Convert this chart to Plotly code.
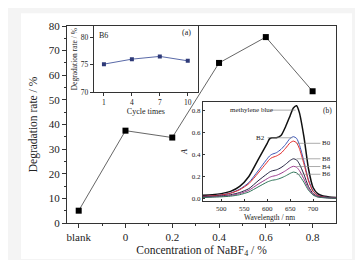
import plotly.graph_objects as go

# ---------------- data ----------------
conc_x = [-0.2, 0.0, 0.2, 0.4, 0.6, 0.8]
conc_labels = ["blank", "0", "0.2", "0.4", "0.6", "0.8"]
deg_rate = [5.0, 37.5, 34.7, 65.0, 75.5, 53.5]

cycle_times = [1, 4, 7, 10]
cycle_rate = [75.1, 76.0, 76.5, 75.7]

wavelength = [460, 480, 500, 520, 540, 560, 580, 600, 605, 610, 620, 630, 640, 650, 657, 664, 670, 680, 690, 700, 710, 720, 735, 750]
abs_mb = [0.030, 0.035, 0.045, 0.065, 0.110, 0.200, 0.350, 0.500, 0.540, 0.550, 0.550, 0.570, 0.650, 0.750, 0.820, 0.840, 0.780, 0.560, 0.270, 0.100, 0.045, 0.025, 0.015, 0.010]
abs_b2 = [0.020, 0.025, 0.035, 0.050, 0.085, 0.145, 0.250, 0.360, 0.385, 0.400, 0.415, 0.445, 0.490, 0.545, 0.560, 0.545, 0.490, 0.340, 0.170, 0.070, 0.030, 0.018, 0.010, 0.006]
abs_b0 = [0.020, 0.025, 0.033, 0.048, 0.080, 0.135, 0.230, 0.330, 0.355, 0.370, 0.385, 0.410, 0.455, 0.505, 0.520, 0.505, 0.455, 0.315, 0.160, 0.065, 0.028, 0.016, 0.009, 0.005]
abs_b8 = [0.015, 0.020, 0.025, 0.035, 0.055, 0.090, 0.160, 0.225, 0.240, 0.250, 0.260, 0.280, 0.310, 0.345, 0.360, 0.350, 0.315, 0.220, 0.110, 0.045, 0.020, 0.012, 0.007, 0.004]
abs_b4 = [0.012, 0.016, 0.020, 0.028, 0.045, 0.075, 0.130, 0.180, 0.192, 0.200, 0.210, 0.228, 0.252, 0.280, 0.292, 0.284, 0.255, 0.178, 0.090, 0.038, 0.017, 0.010, 0.006, 0.004]
abs_b6 = [0.010, 0.013, 0.016, 0.022, 0.035, 0.060, 0.105, 0.150, 0.158, 0.165, 0.172, 0.186, 0.205, 0.228, 0.240, 0.233, 0.210, 0.148, 0.075, 0.032, 0.014, 0.009, 0.005, 0.003]

spectra = [
    ("methylene blue", abs_mb, "#111111", 1.5),
    ("B2", abs_b2, "#3a55b5", 1.0),
    ("B0", abs_b0, "#e02828", 1.0),
    ("B8", abs_b8, "#23233f", 1.0),
    ("B4", abs_b4, "#9b3b8c", 1.0),
    ("B6", abs_b6, "#2f7458", 1.0),
]

FONT = "Liberation Serif"
W, H = 363, 260
ML, MR, MT, MB = 59, 35, 13, 45
pw = W - ML - MR
ph = H - MT - MB


def px2paper_x(px):
    return (px - ML) / pw


def px2paper_y(py):
    return (H - MB - py) / ph


fig = go.Figure()

# main
fig.add_trace(go.Scatter(
    x=conc_x, y=deg_rate, mode="lines+markers",
    line=dict(color="#555555", width=0.9),
    marker=dict(symbol="square", size=6, color="#000000"),
    xaxis="x", yaxis="y", showlegend=False))

# inset (a)
fig.add_trace(go.Scatter(
    x=cycle_times, y=cycle_rate, mode="lines+markers",
    line=dict(color="#5a6aa8", width=1),
    marker=dict(symbol="square", size=4, color="#2e3a78"),
    xaxis="x2", yaxis="y2", showlegend=False))

# inset (b)
for name, vals, col, w in spectra:
    fig.add_trace(go.Scatter(
        x=wavelength, y=vals, mode="lines", name=name,
        line=dict(color=col, width=w, shape="spline", smoothing=0.6),
        xaxis="x3", yaxis="y3", showlegend=False))

axis_common = dict(showline=True, mirror=True, linecolor="#333333", showgrid=False,
                   zeroline=False, ticks="outside", tickcolor="#333333")

fig.update_layout(
    width=W, height=H,
    margin=dict(l=ML, r=MR, t=MT, b=MB),
    paper_bgcolor="#f4f4f4", plot_bgcolor="white",
    font=dict(family=FONT, color="#222222"),
    xaxis=dict(axis_common, domain=[0, 1], range=[-0.25, 0.9], linewidth=1.3,
               tickmode="array", tickvals=conc_x, ticktext=conc_labels, ticklen=4,
               tickfont=dict(size=11),
               minor=dict(ticks="outside", ticklen=2, tickvals=[-0.1, 0.1, 0.3, 0.5, 0.7]),
               title=dict(text="Concentration of NaBF<sub>4</sub> / %", font=dict(size=11.5), standoff=3)),
    yaxis=dict(axis_common, domain=[0, 1], range=[0, 80], linewidth=1.3,
               dtick=10, ticklen=4, tickfont=dict(size=11),
               minor=dict(ticks="outside", ticklen=2, dtick=5),
               title=dict(text="Degradation rate / %", font=dict(size=11.5), standoff=8)),
    xaxis2=dict(axis_common, anchor="y2",
                domain=[px2paper_x(85.7), px2paper_x(190)], range=[-0.1, 11.1],
                tickvals=cycle_times, ticklen=3, linewidth=1,
                tickfont=dict(size=7.5),
                title=dict(text="Cycle times", font=dict(size=8), standoff=2)),
    yaxis2=dict(axis_common, anchor="x2",
                domain=[px2paper_y(81), 1.0], range=[70, 82],
                tickvals=[70, 75, 80], ticklen=3, linewidth=1,
                tickfont=dict(size=7.5),
                title=dict(text="Degradation rate / %", font=dict(size=7.5), standoff=2)),
    xaxis3=dict(axis_common, anchor="y3",
                domain=[px2paper_x(195), 1.0], range=[460, 750],
                tickvals=[500, 550, 600, 650, 700], ticks="inside", ticklen=2, linewidth=1,
                tickfont=dict(size=7),
                title=dict(text="Wavelength / nm", font=dict(size=7.5), standoff=1)),
    yaxis3=dict(axis_common, anchor="x3",
                domain=[px2paper_y(192.7), px2paper_y(91)], range=[-0.024, 0.873],
                tickvals=[0.0, 0.2, 0.4, 0.6, 0.8], tickformat=".1f",
                ticks="inside", ticklen=2, linewidth=1,
                tickfont=dict(size=7),
                title=dict(text="<i>A</i>", font=dict(size=8), standoff=3)),
)

# white page area over light-grey surround
fig.add_shape(type="rect", xref="paper", yref="paper",
              x0=px2paper_x(13), x1=px2paper_x(344), y0=px2paper_y(252), y1=px2paper_y(0),
              fillcolor="white", line=dict(width=0), layer="below")

# inset (a) texts
fig.add_annotation(xref="x2", yref="y2", x=1.0, y=80.2, text="B6", showarrow=False,
                   font=dict(size=8), xanchor="center")
fig.add_annotation(xref="x2", yref="y2", x=10.6, y=80.9, text="(a)", showarrow=False,
                   font=dict(size=8), xanchor="right")

# inset (b) labels with leader lines
fig.add_annotation(xref="x3", yref="y3", x=565, y=0.80, text="methylene blue", showarrow=False,
                   font=dict(size=7), xanchor="center")
fig.add_annotation(xref="x3", yref="y3", x=745, y=0.80, text="(b)", showarrow=False,
                   font=dict(size=7.5), xanchor="right")
labels_b = [("B2", 0.55, "left"), ("B0", 0.50, "right"), ("B8", 0.36, "right"),
            ("B4", 0.29, "right"), ("B6", 0.22, "right")]
fig.add_shape(type="line", xref="x3", yref="y3", x0=607, x1=662, y0=0.80, y1=0.80,
              line=dict(color="#888888", width=0.7))
for lab, yv, side in labels_b:
    if side == "left":
        fig.add_annotation(xref="x3", yref="y3", x=600, y=yv, text=lab, showarrow=False,
                           font=dict(size=7), xanchor="right")
        fig.add_shape(type="line", xref="x3", yref="y3", x0=601, x1=655, y0=yv, y1=yv,
                      line=dict(color="#888888", width=0.7))
    else:
        fig.add_annotation(xref="x3", yref="y3", x=716, y=yv, text=lab, showarrow=False,
                           font=dict(size=7), xanchor="left", yanchor="middle",
                           height=8, valign="middle")
        fig.add_shape(type="line", xref="x3", yref="y3", x0=664, x1=716, y0=yv, y1=yv,
                      line=dict(color="#888888", width=0.7))

fig.write_html("out.html")
